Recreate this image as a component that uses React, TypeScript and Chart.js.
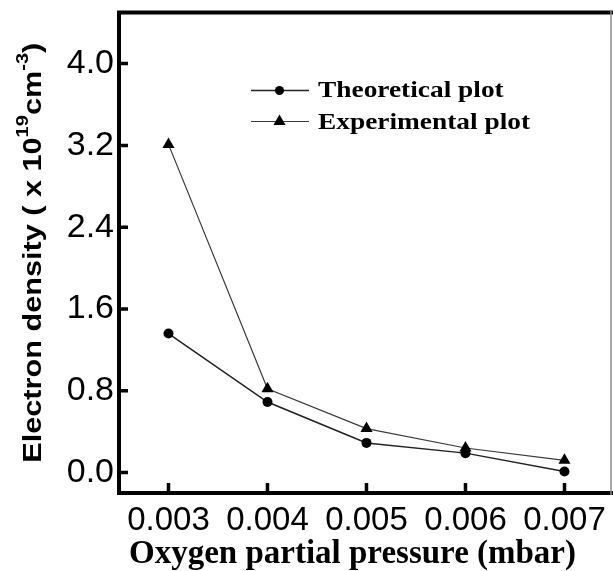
import React, { useEffect, useRef } from 'react';
import { Chart, registerables } from 'chart.js';

Chart.register(...registerables);

// ---- data ----
const pressures = [0.003, 0.004, 0.005, 0.006, 0.007];
const theoretical = [1.36, 0.69, 0.29, 0.19, 0.01];
const experimental = [3.21, 0.82, 0.43, 0.24, 0.12];
const xTicks = [0.003, 0.004, 0.005, 0.006, 0.007];
const yTicks = [0.0, 0.8, 1.6, 2.4, 3.2, 4.0];
const seriesNames = ['Theoretical plot', 'Experimental plot'];
const xTitle = 'Oxygen partial pressure (mbar)';
const yTitleParts = [
  { text: 'Electron density ( x 10', sup: false },
  { text: '19', sup: true },
  { text: 'cm', sup: false },
  { text: '-3', sup: true },
  { text: ')', sup: false },
];

const SANS = '"Liberation Sans", Arial, sans-serif';
const SERIF = '"Liberation Serif", "Times New Roman", serif';

const decorPlugin = {
  id: 'decor',
  afterDraw(chart: any) {
    const { ctx, chartArea: a, scales } = chart;
    ctx.save();

    // frame
    ctx.strokeStyle = '#000';
    ctx.lineWidth = 4;
    ctx.lineCap = 'square';
    ctx.beginPath();
    ctx.moveTo(a.right, a.top);
    ctx.lineTo(a.left, a.top);
    ctx.lineTo(a.left, a.bottom);
    ctx.lineTo(a.right, a.bottom);
    ctx.stroke();
    ctx.strokeStyle = '#8a8a8a';
    ctx.lineWidth = 1.5;
    ctx.lineCap = 'butt';
    ctx.beginPath();
    ctx.moveTo(a.right, a.top - 2);
    ctx.lineTo(a.right, a.bottom + 2);
    ctx.stroke();

    // inward tick marks
    ctx.strokeStyle = '#000';
    ctx.lineWidth = 3.5;
    ctx.beginPath();
    yTicks.forEach((v) => {
      const y = scales.y.getPixelForValue(v);
      ctx.moveTo(a.left, y);
      ctx.lineTo(a.left + 9, y);
    });
    xTicks.forEach((v) => {
      const x = scales.x.getPixelForValue(v);
      ctx.moveTo(x, a.bottom);
      ctx.lineTo(x, a.bottom - 10);
    });
    ctx.stroke();

    // legend
    const ds = chart.data.datasets;
    const legendRows = [
      { lineY: 90.5, textY: 97, textScale: 1.19 },
      { lineY: 121.5, textY: 128.5, textScale: 1.19 },
    ];
    legendRows.forEach((row, i) => {
      const d = ds[i];
      ctx.strokeStyle = d.borderColor;
      ctx.lineWidth = d.borderWidth;
      ctx.beginPath();
      ctx.moveTo(251, row.lineY);
      ctx.lineTo(309, row.lineY);
      ctx.stroke();
      ctx.fillStyle = '#000';
      ctx.beginPath();
      if (d.pointStyle === 'triangle') {
        const r = 7;
        const cx = 279.5;
        const cy = row.lineY;
        ctx.moveTo(cx, cy - r);
        ctx.lineTo(cx + r * 0.866, cy + r / 2);
        ctx.lineTo(cx - r * 0.866, cy + r / 2);
        ctx.closePath();
      } else {
        ctx.arc(279.5, row.lineY, 4.5, 0, Math.PI * 2);
      }
      ctx.fill();
      ctx.save();
      ctx.font = `bold 23px ${SERIF}`;
      ctx.textAlign = 'left';
      ctx.textBaseline = 'alphabetic';
      ctx.translate(318, row.textY);
      ctx.scale(row.textScale, 1);
      ctx.fillText(d.label, 0, 0);
      ctx.restore();
    });

    // x title
    ctx.fillStyle = '#000';
    ctx.font = `bold 33px ${SERIF}`;
    ctx.textAlign = 'center';
    ctx.textBaseline = 'alphabetic';
    ctx.fillText(xTitle, 352.5, 563);

    // y title (with superscripts)
    const mainFont = `bold 26px ${SANS}`;
    const supFont = `bold 17px ${SANS}`;
    let total = 0;
    const widths = yTitleParts.map((p) => {
      ctx.font = p.sup ? supFont : mainFont;
      const w = ctx.measureText(p.text).width;
      total += w;
      return w;
    });
    const targetLen = 420;
    const s = targetLen / total;
    const cy = (a.top + a.bottom) / 2;
    ctx.save();
    ctx.translate(41, cy + targetLen / 2);
    ctx.rotate(-Math.PI / 2);
    ctx.scale(s, 1);
    ctx.textAlign = 'left';
    let x = 0;
    yTitleParts.forEach((p, i) => {
      ctx.font = p.sup ? supFont : mainFont;
      ctx.fillText(p.text, x, p.sup ? -13 : 0);
      x += widths[i];
    });
    ctx.restore();

    ctx.restore();
  },
};

export default function App() {
  const canvasRef = useRef<HTMLCanvasElement | null>(null);

  useEffect(() => {
    if (!canvasRef.current) return;
    const chart = new Chart(canvasRef.current, {
      type: 'line',
      data: {
        datasets: [
          {
            label: seriesNames[0],
            data: pressures.map((p, i) => ({ x: p, y: theoretical[i] })),
            borderColor: '#222',
            borderWidth: 1.5,
            backgroundColor: '#000',
            pointBackgroundColor: '#000',
            pointBorderColor: '#000',
            pointStyle: 'circle',
            pointRadius: 5,
            pointBorderWidth: 0,
            tension: 0,
          },
          {
            label: seriesNames[1],
            data: pressures.map((p, i) => ({ x: p, y: experimental[i] })),
            borderColor: '#3a3a3a',
            borderWidth: 1.2,
            backgroundColor: '#000',
            pointBackgroundColor: '#000',
            pointBorderColor: '#000',
            pointStyle: 'triangle',
            pointRadius: 7,
            pointBorderWidth: 0,
            tension: 0,
          },
        ],
      },
      options: {
        animation: false,
        responsive: false,
        maintainAspectRatio: false,
        layout: { autoPadding: false, padding: { left: 0, right: 2, top: 12.5, bottom: 0 } },
        plugins: {
          legend: { display: false },
          tooltip: { enabled: false },
          title: { display: false },
        },
        scales: {
          x: {
            type: 'linear',
            min: 0.0025,
            max: 0.00747,
            grid: { display: false, drawTicks: false },
            border: { display: false },
            afterBuildTicks: (scale: any) => {
              scale.ticks = xTicks.map((v) => ({ value: v }));
            },
            afterFit: (scale: any) => {
              scale.height = 78;
              scale.paddingLeft = 0;
              scale.paddingRight = 0;
            },
            ticks: {
              color: '#000',
              padding: 8,
              maxRotation: 0,
              autoSkip: false,
              font: { family: SANS, size: 33 },
              callback: (v: any) => Number(v).toFixed(3),
            },
          },
          y: {
            type: 'linear',
            min: -0.2,
            max: 4.5,
            grid: { display: false, drawTicks: false },
            border: { display: false },
            afterBuildTicks: (scale: any) => {
              scale.ticks = yTicks.map((v) => ({ value: v }));
            },
            afterFit: (scale: any) => {
              scale.width = 119;
              scale.paddingTop = 0;
              scale.paddingBottom = 0;
            },
            ticks: {
              color: '#000',
              padding: 5,
              autoSkip: false,
              font: { family: SANS, size: 34 },
              callback: (v: any) => Number(v).toFixed(1),
            },
          },
        },
      },
      plugins: [decorPlugin],
    } as any);
    return () => chart.destroy();
  }, []);

  return (
    <div style={{ position: 'fixed', left: 0, top: 0, width: 613, height: 571, background: '#fff' }}>
      <canvas ref={canvasRef} width={613} height={571} style={{ display: 'block' }} />
    </div>
  );
}
